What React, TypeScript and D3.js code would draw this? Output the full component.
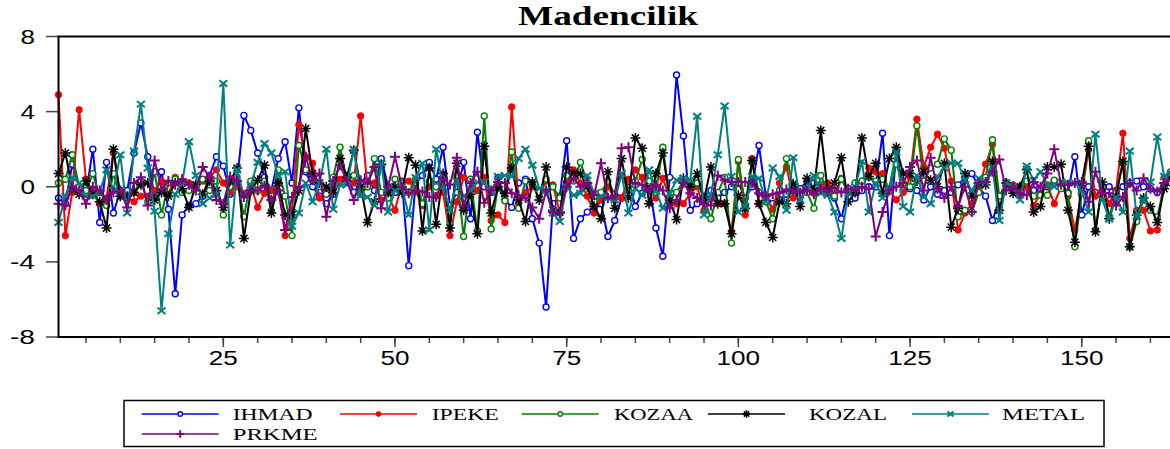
import React from "react";
import * as d3 from "d3";

// ---- data ----
const seriesNames = ["IHMAD", "IPEKE", "KOZAA", "KOZAL", "METAL", "PRKME"];

const IHMAD = [
  -0.6, -0.9, 1.2, 0.0, -0.4, 2.0, -1.9, 1.3, -1.4, -0.2,
  -0.2, 1.8, 3.4, 1.6, -0.6, 0.8, -1.2, -5.7, -1.5, -1.0,
  -0.9, -0.5, 0.6, 1.6, 1.1, -0.4, 0.3, 3.8, 3.0, 1.8,
  0.5, -0.2, 1.5, 2.4, 0.2, 4.2, 0.8, 0.0, -0.5, -0.9,
  -0.4, 0.3, 0.6, -0.3, 0.2, 0.6, -0.2, 1.5, 0.0, -0.3,
  0.3, -4.2, 0.2, 0.6, 1.3, 0.4, 2.1, -1.0, -0.3, 1.3,
  -1.7, 2.9, 0.0, -0.3, 0.5, -0.7, -1.1, 0.2, 0.4, -1.7,
  -3.0, -6.4, -0.9, -0.5, 2.45, -2.75, -1.7, -1.35, -1.0, -0.9,
  -2.65, -1.8, -0.6, 0.3, -1.05, -0.35, 0.2, -2.2, -3.7, 0.5,
  5.95, 2.7, -1.25, -0.9, -0.5, -0.2, -0.6, -0.3, 0.0, 0.2,
  -0.6, 0.0, 2.2, -0.5, -0.9, -0.7, -0.4, -0.2, -0.1, 0.3,
  0.2, 0.1, -0.3, -0.6, -1.7, -0.1, -0.6, -0.2, 0.0, 0.0,
  2.85, -2.6, 1.9, -0.2, -0.1, -0.2, -0.7, 0.0, -0.4, -0.2,
  -0.3, 0.1, 0.5, 0.7, 0.0, -0.5, -1.8, -0.7, 0.1, -0.2,
  0.0, -0.3, -0.2, -0.2, 0.0, 0.3, 0.0, -0.3, 1.6, -1.5,
  0.0, -0.3, -0.2, 0.0, -0.2, 0.0, 0.2, 0.3, 0.0, -0.1,
  -0.3, 0.1, 0.2,
];

const IPEKE = [
  4.9, -2.6, -0.3, 4.1, 0.4, -0.3, -0.9, -0.6, 1.8, -0.4,
  -0.6, -0.8, -0.5, -0.5, -0.2, 0.3, -0.4, 0.5, 0.3, 0.2,
  0.0, 0.3, 0.5, 0.9, 0.2, -0.3, 0.0, -0.35, 0.1, -1.1,
  -0.35, -0.2, 0.3, -2.6, -1.25, 3.3, 1.6, 1.25, -0.6, -0.3,
  0.0, 0.4, 0.5, 0.2, 3.77, 0.0, 0.2, -0.7, -0.5, -1.25,
  0.2, 0.3, -0.2, -1.0, 0.0, -0.5, -0.3, -2.6, -0.8, 0.5,
  0.4, -0.2, 0.5, -1.8, -1.5, -1.9, 4.25, -0.9, -0.3, 0.0,
  -0.45, 0.3, 0.1, -1.4, 0.2, 0.9, 0.2, -0.5, -1.4, -0.7,
  0.0, -0.6, -0.6, 0.4, 0.9, 0.5, -0.2, -0.6, 0.45, -0.6,
  -0.9, -0.9, -0.35, 0.0, -1.25, -0.6, -0.9, -0.9, -2.4, 1.35,
  -1.5, 1.5, -0.9, -0.5, -1.2, 0.2, 1.05, -0.6, -0.3, -0.2,
  -0.35, 0.0, 0.2, -0.45, 0.45, -0.3, 0.0, 0.3, 1.0, 0.8,
  0.7, -0.2, -0.7, -0.3, 0.5, 3.6, 1.05, 2.1, 2.8, 2.05,
  0.3, -2.3, -1.4, -0.9, -0.2, 1.2, 2.25, -1.25, 0.2, 0.1,
  -0.5, 0.0, -1.0, -0.35, 0.1, -0.9, 0.0, -0.5, -2.3, -0.35,
  1.95, -0.5, 0.0, -0.9, -0.2, 2.85, -2.75, -1.25, -1.25, -2.35,
  -2.3, 0.5, 0.7,
];

const KOZAA = [
  0.2, 0.4, 1.7, 0.0, -0.2, 0.7, -0.6, -1.0, 0.7, -0.5,
  -0.6, -0.3, 0.3, -0.8, 0.8, -1.5, 0.2, 0.4, -0.3, -0.2,
  0.1, 0.4, -0.2, 0.3, -1.5, 0.0, 0.5, -1.6, 0.3, -0.2,
  0.3, -1.3, 0.9, -0.5, -2.6, 2.2, 0.9, 0.4, 0.0, -0.4,
  0.5, 2.1, 0.3, 0.6, -0.4, 0.0, 1.5, -0.3, -0.6, 0.4,
  0.2, -0.3, 0.4, -0.9, 0.3, 0.0, 0.5, -1.9, 0.6, -2.65,
  0.4, -2.35, 3.77, -2.25, 0.0, -0.75, 1.85, -1.15, 0.3, 0.2,
  -0.3, 0.4, 0.0, -0.6, 0.6, 0.3, 1.3, 0.2, -0.8, -0.3,
  0.3, -0.4, 0.6, -0.2, 0.3, 1.45, 0.3, -0.3, 2.1, -0.6,
  -0.3, 0.3, 0.0, 0.2, -0.6, -1.7, -0.3, 0.5, -3.0, 1.45,
  -1.0, 1.3, -0.3, -0.8, -1.7, -0.2, 1.5, 0.0, -0.5, -0.3,
  -1.15, 0.6, -0.2, -0.5, 0.4, -0.3, 0.2, 0.3, 0.5, 0.3,
  0.4, -0.2, 1.2, 0.2, 0.0, 3.25, 0.3, 1.0, 1.2, 2.55,
  1.95, -1.6, -1.25, -1.35, -0.3, 0.5, 2.5, -0.5, 0.2, -0.2,
  0.0, 0.3, -0.5, -0.45, -0.45, 0.35, -0.1, -0.35, -3.2, -0.35,
  2.45, -2.3, 0.0, -1.6, -0.35, 1.25, -3.2, -1.85, -0.7, -1.25,
  -1.6, 0.0, 0.8,
];

const KOZAL = [
  0.7, 1.8, -0.1, -0.4, 0.3, -0.4, -0.8, -2.2, 2.0, -0.5,
  -0.5, -0.3, 0.1, 0.2, -0.7, -0.3, -0.5, 0.2, -0.1, -1.1,
  0.1, -0.4, 0.3, -0.2, -1.1, 0.3, 1.0, -2.75, -0.2, 0.35,
  1.15, -1.4, 0.2, -1.5, -1.5, -0.2, 3.1, 0.7, 0.2, 0.0,
  -0.3, 1.5, 0.5, 1.95, 0.0, -1.9, -0.8, 1.2, -0.3, 0.0,
  -0.3, 1.55, 1.15, -2.35, 1.0, -2.0, 0.7, -2.2, 1.25, -1.25,
  -0.4, -2.5, 2.15, -1.4, 0.0, -0.35, 1.0, -0.7, -1.85, 0.25,
  -0.7, 1.05, -1.25, -1.35, 1.05, 0.7, 0.7, 0.0, -1.05, -1.7,
  0.8, -1.15, 1.5, -0.6, 2.6, 2.05, -0.9, 0.7, 1.8, -0.7,
  -1.75, 0.45, 0.0, 0.7, -0.7, 1.05, -0.9, -0.9, -2.5, -0.45,
  -1.15, 1.4, -0.9, -1.9, -2.7, -0.8, -0.9, 0.15, -1.05, 0.45,
  -0.2, 3.0, -0.2, 0.2, 1.55, -0.8, -0.3, 2.6, 0.55, 1.25,
  -0.35, 1.5, 2.1, 0.7, 0.7, 0.3, 0.8, 0.35, 0.0, 1.25,
  -2.15, -1.15, 0.7, -0.5, 0.2, 0.1, 1.35, -1.25, 0.2, -0.35,
  0.0, 0.9, -1.35, -1.05, 1.05, 1.05, 1.2, -1.25, -2.95, 0.2,
  2.15, -2.4, 0.25, -1.7, -0.5, 1.35, -3.2, -1.5, -0.6, -1.05,
  -1.9, -0.1, 0.7,
];

const METAL = [
  -1.9, -0.5, 0.5, 0.2, -0.5, -0.5, -0.3, 0.9, -0.2, 1.7,
  -1.4, 1.9, 4.4, 1.0, -1.3, -6.6, -2.5, -0.4, 0.2, 2.4,
  0.6, -0.9, -0.6, -0.4, 5.5, -3.1, 0.9, -0.5, 0.1, 1.3,
  2.3, 1.8, 0.6, 0.8, -2.1, -1.4, 0.2, -0.8, 0.2, 2.0,
  -1.2, 0.1, 0.1, 2.0, -0.45, -0.55, -1.0, 1.25, -1.35, -0.2,
  0.0, -1.5, 0.5, 1.25, -2.3, 2.0, 0.0, -1.25, 0.3, -0.5,
  -0.2, 0.25, 0.25, -0.3, 0.55, 0.6, 0.55, 1.5, 2.0, 1.15,
  -0.1, -0.2, -1.4, -1.85, 0.0, -0.45, -0.35, 0.6, -0.35, -0.5,
  -0.6, -0.7, 0.7, -1.4, -0.1, -0.45, 0.9, -0.25, -1.15, -0.35,
  0.35, 0.45, 0.35, 3.75, -1.5, -0.45, 1.7, 4.3, 0.55, -1.35,
  -1.05, 0.55, 0.45, -0.8, 1.0, 0.55, -1.25, 1.55, -0.7, -0.1,
  0.6, -0.35, -0.45, -1.35, -2.75, -0.35, 0.0, 1.35, -1.35, 0.2,
  -0.6, 0.0, 1.85, -1.05, -1.35, 0.6, -0.55, -0.9, 0.55, 1.0,
  1.25, 1.25, 0.35, -0.2, 0.45, 0.25, 1.05, -1.8, 0.2, 0.0,
  -0.7, 1.1, 0.35, 0.8, 0.1, 0.0, 0.25, 0.2, 0.2, -0.2,
  -1.35, 2.8, -0.7, -1.7, -0.55, -1.35, 1.9, -1.6, -0.7, 0.25,
  2.65, 0.55, 0.7,
];

const PRKME = [
  -0.9, -1.0, 0.0, -0.2, -0.9, 0.0, -0.2, -0.7, -0.3, -0.2,
  -1.1, 0.2, 0.5, -1.0, 1.4, -0.1, 0.3, 0.1, 0.4, 0.1,
  -0.2, 1.05, 0.5, -0.7, -0.9, 0.55, 0.3, -0.55, -0.2, -0.2,
  0.05, -0.7, -0.2, -2.3, -0.55, 0.0, 1.6, 0.35, 0.7, -1.6,
  0.3, 1.15, 0.3, -0.7, 0.35, 0.2, 1.05, -1.15, 0.0, 1.6,
  0.0, -0.35, -0.2, -0.25, -0.55, -0.55, 0.45, 0.1, 1.55, -1.0,
  0.2, 0.8, -0.85, -0.2, 0.25, 0.2, -0.35, -0.45, -0.6, -1.1,
  -1.7, -0.2, -1.35, -1.4, 0.0, 0.45, 0.0, 0.2, -0.45, 1.25,
  -0.6, -0.45, 2.05, 2.1, 0.2, 0.1, -0.2, 0.1, -0.2, -1.15,
  -0.7, 0.2, -0.35, -0.6, -0.9, -1.0, 0.6, 0.35, 0.25, 0.25,
  0.25, 0.2, -0.35, -0.5, -0.4, -0.3, -0.15, -0.2, -0.3, -0.2,
  -0.4, -0.1, -0.25, -0.05, -0.3, -0.1, -0.2, 0.0, -0.1, -2.65,
  -1.35, -0.2, 0.0, 0.2, 1.05, 1.4, -0.2, 1.55, -0.1, -0.6,
  0.0, -1.05, 0.0, -1.35, 0.2, 0.25, 0.8, 1.45, -0.2, 0.0,
  -0.35, -0.45, 0.25, 0.0, 0.7, 2.0, 0.1, 0.1, 0.2, 0.25,
  -0.8, 0.8, -0.35, -0.35, -1.0, -0.55, 0.2, -0.2, 0.45, -0.1,
  -0.25, 0.2, 0.35,
];

const yTicks = [8, 4, 0, -4, -8];
const xMajorTicks = [25, 50, 75, 100, 125, 150];
const xMinorTicks = d3.range(5, 165, 5);
const titleText = "Madencilik";

// ---- styles / layout ----
const W = 1170;
const H = 449;
const seriesData = [IHMAD, IPEKE, KOZAA, KOZAL, METAL, PRKME];
const colors = ["#0000FF", "#FF0000", "#008000", "#000000", "#008080", "#800080"];
const markerKinds = ["circleOpen", "circleFilled", "circleOpen", "asterisk", "cross", "plus"];

type MarkerProps = { kind: string; cx: number; cy: number; color: string; s?: number };

function Marker({ kind, cx, cy, color, s = 1 }: MarkerProps) {
  if (kind === "circleOpen") {
    return <circle cx={cx} cy={cy} r={3 * s} fill="#fff" stroke={color} strokeWidth={1.4} />;
  }
  if (kind === "circleFilled") {
    return <circle cx={cx} cy={cy} r={3.2 * s} fill={color} stroke={color} strokeWidth={1} />;
  }
  if (kind === "asterisk") {
    const r = 5 * s;
    const d = [0, 45, 90, 135]
      .map((a) => {
        const t = (a * Math.PI) / 180;
        const dx = r * Math.cos(t);
        const dy = r * Math.sin(t);
        return `M${cx - dx},${cy - dy}L${cx + dx},${cy + dy}`;
      })
      .join("");
    return <path d={d} stroke={color} strokeWidth={1.5} fill="none" />;
  }
  if (kind === "cross") {
    const r = 4 * s;
    return (
      <path
        d={`M${cx - r},${cy - r * 0.8}L${cx + r},${cy + r * 0.8}M${cx - r},${cy + r * 0.8}L${cx + r},${cy - r * 0.8}`}
        stroke={color}
        strokeWidth={2}
        fill="none"
      />
    );
  }
  // plus
  const r = 5 * s;
  return (
    <path
      d={`M${cx - r},${cy}L${cx + r},${cy}M${cx},${cy - r}L${cx},${cy + r}`}
      stroke={color}
      strokeWidth={2}
      fill="none"
    />
  );
}

const legendLayout = [
  { lineX: 141.7, textX: 232.7, textW: 80, row: 0 },
  { lineX: 340, textX: 431.7, textW: 67, row: 0 },
  { lineX: 521.7, textX: 614, textW: 79, row: 0 },
  { lineX: 708, textX: 809, textW: 78, row: 0 },
  { lineX: 912, textX: 1002, textW: 83, row: 0 },
  { lineX: 141.7, textX: 232.7, textW: 85, row: 1 },
];

export default function App() {
  const x = d3.scaleLinear().domain([1, 163]).range([58.5, 1171]);
  const y = d3.scaleLinear().domain([-8, 8]).range([337, 36.5]);
  const line = d3
    .line<number>()
    .x((_, i) => x(i + 1))
    .y((v) => y(v));

  const serif = "'Liberation Serif', 'Times New Roman', serif";
  const sans = "'Liberation Sans', Arial, sans-serif";

  return (
    <svg
      width={W}
      height={H}
      viewBox={`0 0 ${W} ${H}`}
      style={{ position: "absolute", left: 0, top: 0, background: "#fff", display: "block" }}
    >
      <rect x={0} y={0} width={W} height={H} fill="#fff" />
      {/* title */}
      <text
        x={608}
        y={25}
        textAnchor="middle"
        fontFamily={serif}
        fontWeight="bold"
        fontSize={28}
        textLength={180}
        lengthAdjust="spacingAndGlyphs"
      >
        {titleText}
      </text>

      {/* y ticks and labels */}
      {yTicks.map((t) => (
        <g key={`y${t}`}>
          <line x1={46} x2={58.5} y1={y(t)} y2={y(t)} stroke="#444" strokeWidth={1.5} />
          <text
            x={35}
            y={y(t) + 7}
            textAnchor="end"
            fontFamily={sans}
            fontSize={19.5}
            textLength={t < 0 ? 25 : 14.5}
            lengthAdjust="spacingAndGlyphs"
          >
            {String(t)}
          </text>
        </g>
      ))}

      {/* x ticks */}
      {xMinorTicks.map((t) => (
        <line key={`xm${t}`} x1={x(t)} x2={x(t)} y1={337} y2={343} stroke="#444" strokeWidth={1.5} />
      ))}
      {xMajorTicks.map((t) => (
        <g key={`xM${t}`}>
          <line x1={x(t)} x2={x(t)} y1={337} y2={347} stroke="#444" strokeWidth={1.5} />
          <text
            x={x(t)}
            y={365}
            textAnchor="middle"
            fontFamily={sans}
            fontSize={19.5}
            textLength={String(t).length * 14.5}
            lengthAdjust="spacingAndGlyphs"
          >
            {String(t)}
          </text>
        </g>
      ))}

      {/* series */}
      {seriesData.map((vals, si) => (
        <g key={seriesNames[si]}>
          <path d={line(vals) || ""} fill="none" stroke={colors[si]} strokeWidth={2} strokeLinejoin="round" />
          {vals.map((v, i) => (
            <Marker key={i} kind={markerKinds[si]} cx={x(i + 1)} cy={y(v)} color={colors[si]} />
          ))}
        </g>
      ))}

      {/* frame */}
      <path d={`M1171,36.5H58.5V337H1171`} fill="none" stroke="#000" strokeWidth={2} />

      {/* legend */}
      <rect x={124} y={400.5} width={980} height={46} fill="#fff" stroke="#000" strokeWidth={1.5} />
      {legendLayout.map((L, si) => {
        const cy = L.row === 0 ? 414 : 434;
        return (
          <g key={`lg${si}`}>
            <line x1={L.lineX} x2={L.lineX + 77} y1={cy} y2={cy} stroke={colors[si]} strokeWidth={1.3} />
            <Marker kind={markerKinds[si]} cx={L.lineX + 38.5} cy={cy} color={colors[si]} s={0.75} />
            <text
              x={L.textX}
              y={cy + 6}
              fontFamily={serif}
              fontSize={16.5}
              textLength={L.textW}
              lengthAdjust="spacingAndGlyphs"
            >
              {seriesNames[si]}
            </text>
          </g>
        );
      })}
    </svg>
  );
}
